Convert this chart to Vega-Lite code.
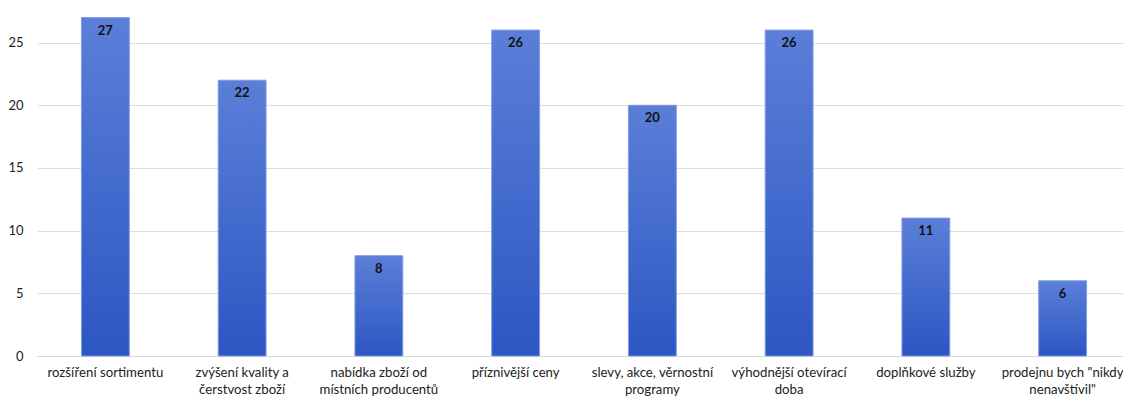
{
  "$schema": "https://vega.github.io/schema/vega-lite/v6.json",
  "width": 1094,
  "height": 356,
  "autosize": {"type": "none"},
  "padding": {"left": 37, "top": 0, "right": 0, "bottom": 41},
  "background": "white",
  "config": {
    "view": {"stroke": null},
    "font": "Lato"
  },
  "data": {
    "values": [
      {"kategorie": "rozšíření sortimentu", "pocet": 27},
      {"kategorie": "zvýšení kvality a čerstvost zboží", "pocet": 22},
      {"kategorie": "nabídka zboží od místních producentů", "pocet": 8},
      {"kategorie": "příznivější ceny", "pocet": 26},
      {"kategorie": "slevy, akce, věrnostní programy", "pocet": 20},
      {"kategorie": "výhodnější otevírací doba", "pocet": 26},
      {"kategorie": "doplňkové služby", "pocet": 11},
      {"kategorie": "prodejnu bych \"nikdy nenavštívil\"", "pocet": 6}
    ]
  },
  "encoding": {
    "x": {
      "field": "kategorie",
      "type": "nominal",
      "sort": null,
      "scale": {"paddingInner": 0.65, "paddingOuter": 0.325},
      "axis": {
        "title": null,
        "labelAngle": 0,
        "domain": true,
        "domainColor": "#d9d9d9",
        "ticks": false,
        "labelPadding": 10,
        "labelFontSize": 13.2,
        "labelColor": "#222222",
        "labelLineHeight": 17,
        "labelLimit": 300,
        "labelExpr": "datum.value == 'zvýšení kvality a čerstvost zboží' ? ['zvýšení kvality a', 'čerstvost zboží'] : datum.value == 'nabídka zboží od místních producentů' ? ['nabídka zboží od', 'místních producentů'] : datum.value == 'slevy, akce, věrnostní programy' ? ['slevy, akce, věrnostní', 'programy'] : datum.value == 'výhodnější otevírací doba' ? ['výhodnější otevírací', 'doba'] : datum.value == 'prodejnu bych \"nikdy nenavštívil\"' ? ['prodejnu bych \"nikdy', 'nenavštívil\"'] : datum.value"
      }
    },
    "y": {
      "field": "pocet",
      "type": "quantitative",
      "scale": {"domain": [0, 28.4], "nice": false},
      "axis": {
        "title": null,
        "values": [0, 5, 10, 15, 20, 25],
        "domain": false,
        "ticks": false,
        "labelPadding": 14,
        "labelFontSize": 13,
        "labelColor": "#222222",
        "gridColor": "#dedede",
        "gridWidth": 1
      }
    }
  },
  "layer": [
    {
      "mark": {
        "type": "bar",
        "stroke": "#7f9de3",
        "strokeWidth": 1,
        "color": {
          "gradient": "linear",
          "x1": 0, "y1": 0, "x2": 0, "y2": 1,
          "stops": [
            {"offset": 0, "color": "#5b7fd8"},
            {"offset": 1, "color": "#2c56c3"}
          ]
        }
      }
    },
    {
      "mark": {
        "type": "text",
        "baseline": "top",
        "dy": 7,
        "fontSize": 13,
        "fontWeight": "bold",
        "color": "#111111"
      },
      "encoding": {"text": {"field": "pocet", "type": "quantitative"}}
    }
  ]
}
